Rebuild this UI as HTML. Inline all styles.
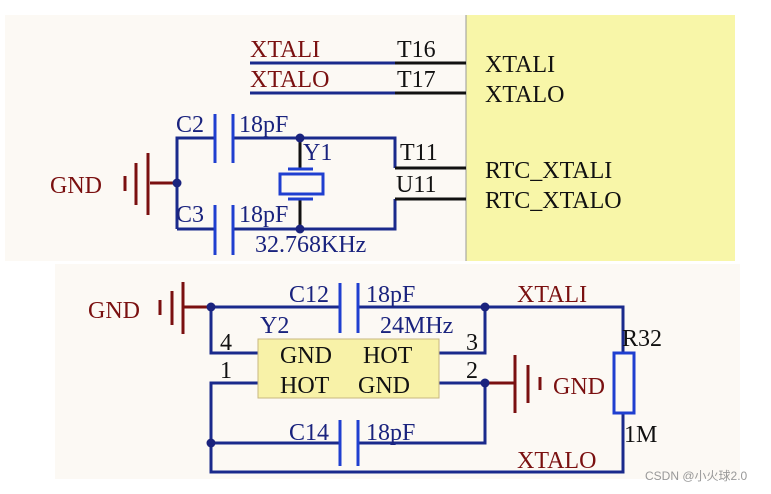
<!DOCTYPE html>
<html><head><style>
body{margin:0;background:#fff;width:771px;height:489px;overflow:hidden}
svg text{font-family:"Liberation Serif",serif;font-size:24px}
</style></head><body>
<svg width="771" height="489" viewBox="0 0 771 489" xmlns="http://www.w3.org/2000/svg">
<rect x="5" y="15" width="730" height="246" fill="#fcf9f4"/>
<rect x="466" y="15" width="269" height="246" fill="#f8f6a8"/>
<line x1="466" y1="15" x2="466" y2="261" stroke="#999" stroke-width="1"/>
<rect x="55" y="264" width="685" height="215" fill="#fcf9f4"/>
<g stroke-width="3" fill="none">
<!-- top pins -->
<line x1="250" y1="63" x2="395" y2="63" stroke="#1a2a8c"/>
<line x1="395" y1="63" x2="466" y2="63" stroke="#111"/>
<line x1="250" y1="93" x2="395" y2="93" stroke="#1a2a8c"/>
<line x1="395" y1="93" x2="466" y2="93" stroke="#111"/>
<!-- RTC -->
<polyline points="177,229 177,138 215,138" stroke="#1a2a8c"/>
<polyline points="233,138 395,138 395,168" stroke="#1a2a8c"/>
<line x1="395" y1="168" x2="466" y2="168" stroke="#111"/>
<polyline points="177,229 215,229" stroke="#1a2a8c"/>
<polyline points="233,229 395,229 395,199" stroke="#1a2a8c"/>
<line x1="395" y1="199" x2="466" y2="199" stroke="#111"/>
<line x1="215" y1="114" x2="215" y2="163" stroke="#1f3fd0"/>
<line x1="233" y1="114" x2="233" y2="163" stroke="#1f3fd0"/>
<line x1="215" y1="205" x2="215" y2="255" stroke="#1f3fd0"/>
<line x1="233" y1="205" x2="233" y2="255" stroke="#1f3fd0"/>
<line x1="300" y1="138" x2="300" y2="168" stroke="#111"/>
<line x1="300" y1="199" x2="300" y2="229" stroke="#111"/>
<line x1="288" y1="169" x2="313" y2="169" stroke="#1f3fd0"/>
<rect x="280" y="174" width="43" height="20" stroke="#1f3fd0"/>
<line x1="288" y1="199" x2="313" y2="199" stroke="#1f3fd0"/>
<line x1="150" y1="183" x2="177" y2="183" stroke="#7a1010"/>
<line x1="148" y1="153" x2="148" y2="215" stroke="#7a1010"/>
<line x1="136" y1="163" x2="136" y2="205" stroke="#7a1010"/>
<line x1="125" y1="176" x2="125" y2="191" stroke="#7a1010"/>
<!-- bottom -->
<line x1="183" y1="307" x2="211" y2="307" stroke="#7a1010"/>
<line x1="183" y1="282" x2="183" y2="334" stroke="#7a1010"/>
<line x1="172" y1="291" x2="172" y2="325" stroke="#7a1010"/>
<line x1="160" y1="300" x2="160" y2="315" stroke="#7a1010"/>
<polyline points="340,307 211,307 211,353 258,353" stroke="#1a2a8c"/>
<polyline points="358,307 623,307 623,353" stroke="#1a2a8c"/>
<polyline points="485,307 485,353 439,353" stroke="#1a2a8c"/>
<polyline points="258,383 211,383 211,472 623,472 623,413" stroke="#1a2a8c"/>
<polyline points="211,443 340,443" stroke="#1a2a8c"/>
<polyline points="358,443 485,443 485,383 439,383" stroke="#1a2a8c"/>
<line x1="340" y1="283" x2="340" y2="333" stroke="#1f3fd0"/>
<line x1="358" y1="283" x2="358" y2="333" stroke="#1f3fd0"/>
<line x1="340" y1="420" x2="340" y2="466" stroke="#1f3fd0"/>
<line x1="358" y1="420" x2="358" y2="466" stroke="#1f3fd0"/>
<line x1="485" y1="383" x2="514" y2="383" stroke="#7a1010"/>
<line x1="515" y1="355" x2="515" y2="413" stroke="#7a1010"/>
<line x1="528" y1="365" x2="528" y2="403" stroke="#7a1010"/>
<line x1="540" y1="377" x2="540" y2="390" stroke="#7a1010"/>
<rect x="614" y="353" width="20" height="60" stroke="#1f3fd0" fill="#fcf9f4"/>
</g>
<rect x="258" y="339" width="181" height="59" fill="#f8f2a8" stroke="#c8b880" stroke-width="1"/>
<g fill="#1a237e">
<circle cx="177" cy="183" r="4.5"/><circle cx="300" cy="138" r="4.5"/><circle cx="300" cy="229" r="4.5"/>
<circle cx="211" cy="307" r="4.5"/><circle cx="485" cy="307" r="4.5"/><circle cx="485" cy="383" r="4.5"/><circle cx="211" cy="443" r="4.5"/>
</g>
<g fill="#7a1010">
<text x="250" y="57">XTALI</text><text x="250" y="87">XTALO</text>
<text x="50" y="193">GND</text><text x="88" y="318">GND</text><text x="553" y="394">GND</text>
<text x="517" y="302">XTALI</text><text x="517" y="468">XTALO</text>
</g>
<g fill="#111">
<text x="397" y="57">T16</text><text x="397" y="87">T17</text>
<text x="400" y="160">T11</text><text x="396" y="192">U11</text>
<text x="485" y="72">XTALI</text><text x="485" y="102">XTALO</text>
<text x="485" y="178">RTC_XTALI</text><text x="485" y="208">RTC_XTALO</text>
<text x="220" y="350">4</text><text x="220" y="378">1</text><text x="466" y="350">3</text><text x="466" y="378">2</text>
<text x="280" y="363">GND</text><text x="363" y="363">HOT</text>
<text x="280" y="393">HOT</text><text x="358" y="393">GND</text>
<text x="622" y="346">R32</text><text x="624" y="442">1M</text>
</g>
<g fill="#1a237e">
<text x="176" y="132">C2</text><text x="239" y="132">18pF</text>
<text x="303" y="160">Y1</text>
<text x="176" y="222">C3</text><text x="239" y="222">18pF</text>
<text x="255" y="252">32.768KHz</text>
<text x="289" y="302">C12</text><text x="366" y="302">18pF</text>
<text x="260" y="333">Y2</text><text x="380" y="333">24MHz</text>
<text x="289" y="440">C14</text><text x="366" y="440">18pF</text>
</g>
<text x="645" y="480" fill="#999" style="font-family:'Liberation Sans','Noto Sans CJK SC',sans-serif;font-size:12px">CSDN @小火球2.0</text>
</svg>
</body></html>
